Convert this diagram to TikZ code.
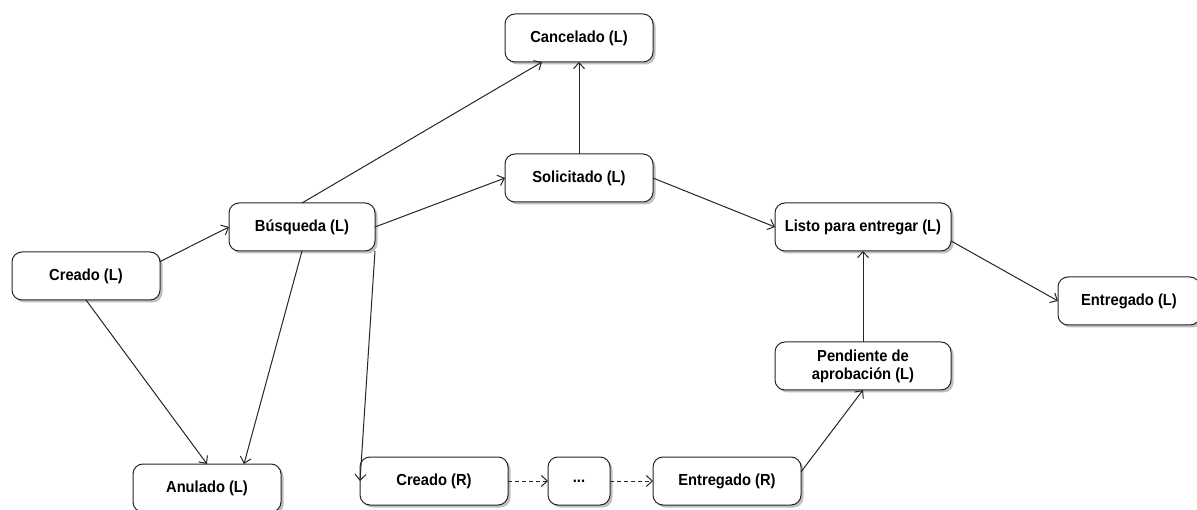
\documentclass[tikz,border=0pt]{standalone}
\usepackage{fontspec}
\setmainfont{Liberation Sans}[FakeStretch=0.92]
\usetikzlibrary{arrows.meta,shadows}
\begin{document}
\begin{tikzpicture}[x=1pt,y=-1pt,
  state/.style={draw=black!85, line width=1pt, rounded corners=10pt, fill=white,
    minimum height=48pt, minimum width=148pt, inner sep=2pt, outer sep=0pt,
    align=center, font=\fontsize{16}{18}\selectfont\bfseries,
    drop shadow={shadow xshift=2.5pt, shadow yshift=-2.5pt, opacity=0.25, fill=black}},
  conn/.style={draw=black!85, line width=1pt, -{Straight Barb[length=6pt,width=11pt]}},
  dconn/.style={conn, dashed, dash pattern=on 4pt off 3pt}]
\useasboundingbox (0,0) rectangle (1197,510);
\fill[white] (0,0) rectangle (1197,510);

\node[state] (canc) at (579,38) {Cancelado (L)};
\node[state] (solic) at (579,178) {Solicitado (L)};
\node[state, minimum width=146pt] (busq) at (302,227) {Búsqueda (L)};
\node[state] (creL) at (86,276) {Creado (L)};
\node[state, minimum width=176pt] (listo) at (863,227) {Listo para entregar (L)};
\node[state, minimum width=142pt] (entL) at (1129,301) {Entregado (L)};
\node[state, minimum width=176pt] (pend) at (863,366) {Pendiente de\\aprobación (L)};
\node[state] (anul) at (207,488) {Anulado (L)};
\node[state] (creR) at (434,481) {Creado (R)};
\node[state, minimum width=62pt] (dots) at (579,481) {...};
\node[state] (entR) at (727,481) {Entregado (R)};

\draw[conn] (creL.11) -- (busq.west);
\draw[conn] (creL.south) -- (anul.north);
\draw[conn] (busq.south) -- (anul.33.7);
\draw[conn] (busq.north) -- (canc.213);
\draw[conn] (busq.east) -- (solic.west);
\draw[conn] (busq.south east) -- (creR.west);
\draw[conn] (solic.north) -- (canc.south);
\draw[conn] (solic.east) -- (listo.west);
\draw[conn] (listo.-9.7) -- (entL.west);
\draw[conn] (pend.north) -- (listo.south);
\draw[conn] (entR.7) -- (pend.south);
\draw[dconn] (creR.east) -- (dots.west);
\draw[dconn] (dots.east) -- (entR.west);
\end{tikzpicture}
\end{document}
